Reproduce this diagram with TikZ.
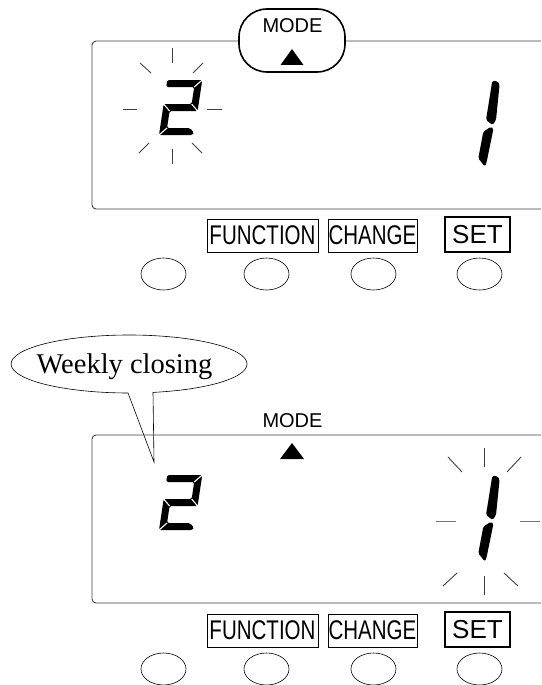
\documentclass[tikz,border=0pt]{standalone}
\usepackage{fontspec}
\usepackage{graphicx}
\setmainfont{Liberation Serif}
\setsansfont{Liberation Sans}
\usetikzlibrary{shapes.geometric}
\newcommand\digitTwo{%
  \fill[seg] (167.25,80) -- (202.25,80) -- (197.6,111) -- (169.6,111) -- (167.05,128) -- (190,128) -- (194,133) -- (192.5,135) -- (159,135) -- (163.65,104) -- (191.65,104) -- (194.2,87) -- (166.2,87) -- cycle;
  \draw[segcut] (202.25,80) -- (194.2,87) (197.6,111) -- (191.65,104) (163.65,104) -- (169.6,111) (159,135) -- (167.05,128);
}
\newcommand\digitOne{%
  \fill[seg] (492.3,80.7) -- (497.5,81.2) -- (499.6,84.5) -- (496,120) -- (492.7,125) -- (486,120) -- cycle;
  \fill[seg] (491,126.7) -- (493.5,128.5) -- (486.7,161.7) -- (485,166.7) -- (478.3,158.3) -- (483.3,131.7) -- cycle;
}
\begin{document}
\begin{tikzpicture}[x=1pt,y=-1pt,
  panel/.style={draw=black!75, line width=0.9pt, rounded corners=4pt},
  seg/.style={fill=black, rounded corners=1.6pt},
  segcut/.style={draw=white, line width=1.1pt},
  ray/.style={draw=black!75, line width=0.9pt},
  btn/.style={draw, ellipse, line width=0.6pt, minimum width=45pt, minimum height=32pt, inner sep=0pt},
  lbl/.style={draw, line width=0.6pt, inner sep=0pt, minimum height=33pt, font=\sffamily\fontsize{27}{27}\selectfont},
  modetxt/.style={font=\sffamily\fontsize{20}{20}\selectfont, inner sep=0pt, anchor=base},
  tri/.style={fill=black},
  stadium/.style={draw, line width=1.6pt, fill=white, rounded corners=28pt},
  bubble/.style={draw, line width=0.6pt},
  bubtxt/.style={font=\fontsize{28.5}{28.5}\selectfont, inner sep=0pt, anchor=base}
]
\useasboundingbox (0,0) rectangle (541,685);
\clip (0,0) rectangle (541,685);

% ---------- upper panel ----------
\draw[panel] (560,41) -- (92,41) -- (92,209) -- (560,209);
\draw[stadium] (239,9) rectangle (345,72);
\node[modetxt] (mode1) at (292.5,33) {MODE};
\fill[tri] (292,49) -- (303.5,65) -- (280.5,65) -- cycle;
\digitTwo
\digitOne
% rays around the 2
\draw[ray] (172,48) -- (172,63);
\draw[ray] (172,149) -- (172,164);
\draw[ray] (123,109) -- (137,109);
\draw[ray] (207,109) -- (222,109);
\draw[ray] (140,63) -- (151,73);
\draw[ray] (203,63) -- (193,73);
\draw[ray] (139,153) -- (149,143);
\draw[ray] (202,153) -- (192,143);
% labels and buttons
\node[lbl, minimum width=111pt] (fn1) at (262.5,235.5) {\scalebox{0.76}[1]{FUNCTION}};
\node[lbl, minimum width=89pt] (ch1) at (372.5,235.5) {\scalebox{0.76}[1]{CHANGE}};
\node[lbl, minimum width=65pt, minimum height=35pt, line width=1.2pt, font=\sffamily\fontsize{26}{26}\selectfont] (set1) at (477.5,234.5) {SET};
\node[btn] (bt1a) at (163.5,274) {};
\node[btn] (bt1b) at (266.5,274) {};
\node[btn] (bt1c) at (373.5,274) {};
\node[btn] (bt1d) at (479.5,274) {};

% ---------- lower panel ----------
\draw[bubble] (153,392.4) arc[start angle=281.7, end angle=629.5, x radius=118pt, y radius=29pt] -- (154,462) -- cycle;
\node[bubtxt] (weekly) at (124.5,373) {Weekly closing};
\draw[panel] (560,435) -- (92,435) -- (92,603) -- (560,603);
\node[modetxt] (mode2) at (292.5,427) {MODE};
\fill[tri] (292,443) -- (304,459) -- (280,459) -- cycle;
\begin{scope}[shift={(0,395)}]
  \digitTwo
  \digitOne
\end{scope}
% rays around the 1
\draw[ray] (484,448) -- (484,467);
\draw[ray] (484,576) -- (484,595);
\draw[ray, draw=black!55] (436,521) -- (456,521);
\draw[ray, draw=black!55] (520,521) -- (540,521);
\draw[ray] (448,457) -- (462,472);
\draw[ray] (521,457) -- (507,472);
\draw[ray] (443,586) -- (457,573);
\draw[ray] (518,586) -- (504,573);
% labels and buttons
\node[lbl, minimum width=111pt] (fn2) at (262.5,630.5) {\scalebox{0.76}[1]{FUNCTION}};
\node[lbl, minimum width=89pt] (ch2) at (372.5,630.5) {\scalebox{0.76}[1]{CHANGE}};
\node[lbl, minimum width=65pt, minimum height=35pt, line width=1.2pt, font=\sffamily\fontsize{26}{26}\selectfont] (set2) at (477.5,629.5) {SET};
\node[btn] (bt2a) at (163.5,669) {};
\node[btn] (bt2b) at (266.5,669) {};
\node[btn] (bt2c) at (373.5,669) {};
\node[btn] (bt2d) at (479.5,669) {};
\end{tikzpicture}
\end{document}
